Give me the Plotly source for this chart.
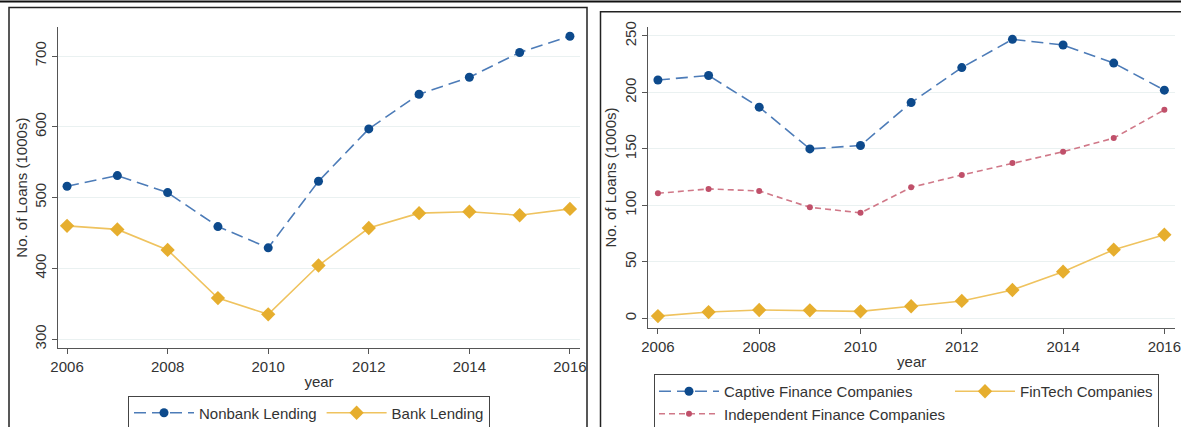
import plotly.graph_objects as go

years = list(range(2006, 2017))

# Left panel
nonbank = [516, 531, 507, 459, 429, 523, 597, 646, 670, 705, 728]
bank = [460, 455, 426, 358, 335, 404, 457, 478, 480, 475, 484]

# Right panel
captive = [211, 215, 187, 150, 153, 191, 222, 247, 242, 226, 202]
independent = [110.7, 114.6, 112.8, 98.3, 93.4, 116, 126.9, 137.5, 147.5, 159.6, 184.6]
fintech = [2.0, 5.6, 7.4, 7.1, 6.2, 10.7, 15.4, 25.1, 41.3, 60.8, 74.1]

left_yticks = [300, 400, 500, 600, 700]
right_yticks = [0, 50, 100, 150, 200, 250]
xticks = [2006, 2008, 2010, 2012, 2014, 2016]

W, H = 1181, 427
FONT = "Liberation Sans, Arial, sans-serif"

NAVY_LINE = "#4d7cb8"
NAVY_MK = "#0d4a8c"
GOLD_LINE = "#efc35f"
GOLD_MK = "#e6ae2e"
RED_LINE = "#d07888"
RED_MK = "#c0506a"

fig = go.Figure()

fig.add_trace(go.Scatter(x=years, y=nonbank, name="Nonbank Lending", mode="lines+markers",
                         line=dict(color=NAVY_LINE, width=1.6, dash="12px,6px"),
                         marker=dict(color=NAVY_MK, size=9, symbol="circle"),
                         xaxis="x", yaxis="y", legend="legend"))
fig.add_trace(go.Scatter(x=years, y=bank, name="Bank Lending", mode="lines+markers",
                         line=dict(color=GOLD_LINE, width=1.6),
                         marker=dict(color=GOLD_MK, size=11, symbol="diamond"),
                         xaxis="x", yaxis="y", legend="legend"))

fig.add_trace(go.Scatter(x=years, y=captive, name="Captive Finance Companies", mode="lines+markers",
                         line=dict(color=NAVY_LINE, width=1.6, dash="12px,6px"),
                         marker=dict(color=NAVY_MK, size=9, symbol="circle"),
                         xaxis="x2", yaxis="y2", legend="legend2", legendgroup="a"))
fig.add_trace(go.Scatter(x=years, y=independent, name="Independent Finance Companies", mode="lines+markers",
                         line=dict(color=RED_LINE, width=1.6, dash="6px,4px"),
                         marker=dict(color=RED_MK, size=6, symbol="circle"),
                         xaxis="x2", yaxis="y2", legend="legend2", legendgroup="a"))
fig.add_trace(go.Scatter(x=years, y=fintech, name="FinTech Companies", mode="lines+markers",
                         line=dict(color=GOLD_LINE, width=1.6),
                         marker=dict(color=GOLD_MK, size=11, symbol="diamond"),
                         xaxis="x2", yaxis="y2", legend="legend2", legendgroup="b"))

axis_common = dict(showline=True, linecolor="#555555", linewidth=1.2, ticks="outside",
                   ticklen=5, tickcolor="#555555", tickfont=dict(size=15, color="#333333", family=FONT),
                   zeroline=False, automargin=False)

fig.update_layout(
    template="none",
    width=W, height=H,
    margin=dict(l=0, r=0, t=0, b=0, pad=0, autoexpand=False),
    paper_bgcolor="white", plot_bgcolor="white",
    font=dict(family=FONT, size=15, color="#333333"),
    showlegend=True,
    xaxis=dict(domain=[58 / W, 580 / W], range=[2005.82, 2016.2], tickvals=xticks,
               showgrid=False, anchor="y", ticklabeloverflow="allow",
               title=dict(text="year", font=dict(size=15), standoff=2), **axis_common),
    yaxis=dict(domain=[1 - 348.3 / H, 1 - 27 / H], range=[287, 741], tickvals=left_yticks,
               showgrid=True, gridcolor="#eaf1f1", gridwidth=1, tickangle=-90, anchor="x",
               title=dict(text="No. of Loans (1000s)", font=dict(size=15), standoff=0), **axis_common),
    xaxis2=dict(domain=[648.3 / W, 1175 / W], range=[2005.81, 2016.21], tickvals=xticks,
                showgrid=False, anchor="y2", ticklabeloverflow="allow",
                title=dict(text="year", font=dict(size=15), standoff=2), **axis_common),
    yaxis2=dict(domain=[1 - 328.3 / H, 1 - 26.7 / H], range=[-8.8, 258.2], tickvals=right_yticks,
                showgrid=True, gridcolor="#eaf1f1", gridwidth=1, tickangle=-90, anchor="x2",
                title=dict(text="No. of Loans (1000s)", font=dict(size=15), standoff=1), **axis_common),
    legend=dict(orientation="h", x=128 / W, y=1 - 395.5 / H, xanchor="left", yanchor="top",
                bordercolor="#444444", borderwidth=1, bgcolor="white", itemwidth=60,
                font=dict(size=15, color="#333333"), itemclick=False),
    legend2=dict(orientation="h", x=654 / W, y=1 - 374 / H, xanchor="left", yanchor="top",
                 bordercolor="#444444", borderwidth=1, bgcolor="white", itemwidth=60,
                 traceorder="grouped", tracegroupgap=0,
                 font=dict(size=15, color="#333333"), itemclick=False),
    shapes=[
        dict(type="rect", xref="paper", yref="paper", x0=9 / W, x1=587 / W, y0=-0.2, y1=1 - 7.5 / H,
             line=dict(color="#222222", width=1.5)),
        dict(type="rect", xref="paper", yref="paper", x0=600.5 / W, x1=1.05, y0=-0.2, y1=1 - 11.7 / H,
             line=dict(color="#222222", width=1.5)),
        dict(type="line", xref="paper", yref="paper", x0=0, x1=1, y0=1 - 1.5 / H, y1=1 - 1.5 / H,
             line=dict(color="#111111", width=2)),
    ],
)

fig.write_html("out.html", config={"displayModeBar": False},
               post_script="document.body.style.margin='0px';document.body.style.overflow='hidden';")
